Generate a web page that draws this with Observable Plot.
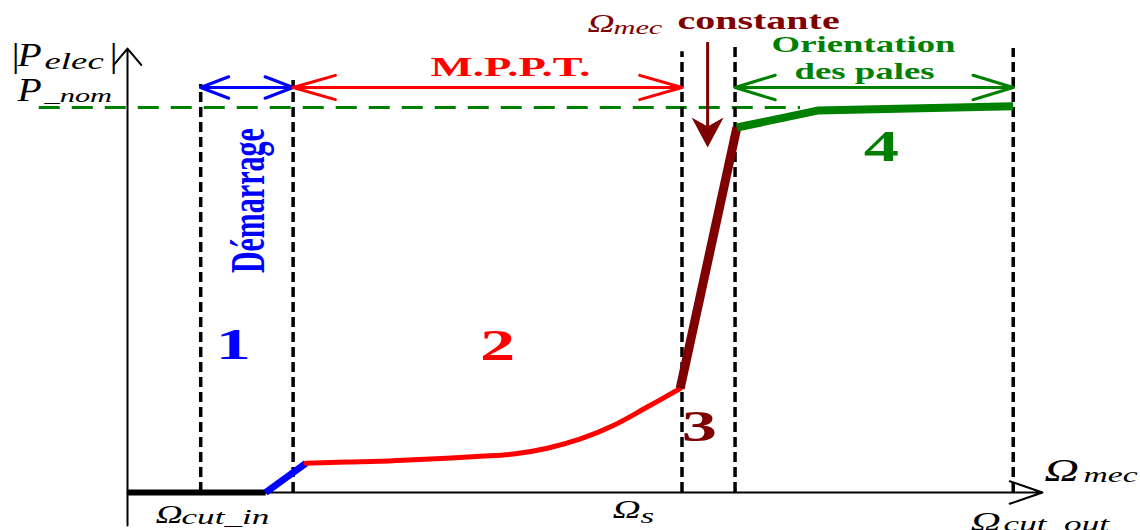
<!DOCTYPE html>
<html>
<head>
<meta charset="utf-8">
<script src="https://cdn.jsdelivr.net/npm/d3@7"></script>
<script src="https://cdn.jsdelivr.net/npm/@observablehq/plot@0.6"></script>
<style>
  html, body { margin: 0; padding: 0; background: #fff; }
  #chart svg { display: block; }
</style>
</head>
<body>
<div id="chart"></div>
<script>
// Wind turbine power curve P_elec(Ω_mec) split into its four operating zones.
// Ω_mec runs on a 0–100 axis; power is a fraction of P_nom.

// Zone boundaries on the speed axis: Ω_cut_in, start of MPPT, Ω_s, rated speed, Ω_cut_out
const boundaryOmega = [8.0, 18.1, 60.6, 66.4, 96.8];

// Turbine stopped
const stopOmega = [0, 15.1];
const stopPower = [0, 0];
// Zone 1: start-up
const startOmega = [15.1, 19.5];
const startPower = [0, 0.076];
// Zone 2: maximum power point tracking
const mpptOmega = [19.5, 24.0, 27.6, 31.3, 34.9, 38.6, 42.2, 45.9, 49.5, 53.1, 56.8, 60.4];
const mpptPower = [0.076, 0.079, 0.081, 0.085, 0.089, 0.094, 0.100, 0.115, 0.139, 0.174, 0.222, 0.270];
// Zone 3: constant speed
const constOmega = [60.4, 66.6];
const constPower = [0.270, 0.948];
// Zone 4: blade pitch control
const pitchOmega = [66.6, 75.4, 96.8];
const pitchPower = [0.948, 0.992, 1.003];

const pNom = 1;

// Zone names and numbers
const zoneNumbers = ["1", "2", "3", "4"];
const rangeNames = ["Démarrage", "M.P.P.T.", "Orientation", "des pales"];

// ---- colours
const BLUE = "#0000ff", RED = "#ff0000", MAROON = "#7f0000", GREEN = "#008000";

// ---- guide layout (data units)
const boundaryTop = [1.06, 1.07, 1.145, 1.16, 1.153];
const arrowLevel = 1.052;

const pts = (xs, ys) => xs.map((x, i) => ({x, y: ys[i]}));

// double-headed range arrow: two overlapping arrows pointing opposite ways
function rangeArrow(x1, x2, color, headLength, headAngle) {
  const d = [{x1, x2, y: arrowLevel}];
  const o = {y1: "y", y2: "y", stroke: color, strokeWidth: 3, headLength, headAngle, bend: 0, inset: 0};
  return [
    Plot.arrow(d, {...o, x1: "x1", x2: "x2"}),
    Plot.arrow(d, {...o, x1: "x2", x2: "x1"})
  ];
}

// italic P and the |…| bars of the power label
const powerSymbols = [
  {t: "|", x: -12.9, y: 1.104, size: 33},
  {t: "P", x: -12.02, y: 1.109, size: 33},
  {t: "|", x: -2.19, y: 1.104, size: 33},
  {t: "P", x: -12.02, y: 1.018, size: 33}
];
// Ω symbols
const omegaSymbols = [
  {t: "Ω", x: 3.06, y: -0.078, size: 25, color: "black"},
  {t: "Ω", x: 53.0, y: -0.0675, size: 26, color: "black"},
  {t: "Ω", x: 92.13, y: -0.099, size: 28, color: "black"},
  {t: "Ω", x: 100.2, y: 0.031, size: 32, color: "black"},
  {t: "Ω", x: 50.27, y: 1.197, size: 25, color: MAROON}
];
const subscripts = [
  {t: "elec", x: -9.07, y: 1.099, size: 23, color: "black"},
  {t: "_nom", x: -9.07, y: 1.013, size: 19, color: "black"},
  {t: "cut_in", x: 5.90, y: -0.081, size: 22, color: "black"},
  {t: "s", x: 56.07, y: -0.078, size: 22, color: "black"},
  {t: "cut_out", x: 95.74, y: -0.101, size: 22, color: "black"},
  {t: "mec", x: 104.48, y: 0.026, size: 21, color: "black"},
  {t: "mec", x: 53.11, y: 1.190, size: 19, color: MAROON}
];
const boldLabels = [
  {t: rangeNames[1], x: 41.86, y: 1.081, size: 28, color: RED},
  {t: rangeNames[2], x: 80.44, y: 1.143, size: 23, color: GREEN},
  {t: rangeNames[3], x: 80.55, y: 1.075, size: 23, color: GREEN},
  {t: zoneNumbers[0], x: 11.58, y: 0.348, size: 44, color: BLUE},
  {t: zoneNumbers[1], x: 40.44, y: 0.343, size: 44, color: RED},
  {t: zoneNumbers[2], x: 62.51, y: 0.135, size: 44, color: MAROON},
  {t: zoneNumbers[3], x: 82.40, y: 0.862, size: 44, color: GREEN}
];

const serif = "'Liberation Serif', 'Times New Roman', serif";

const chart = Plot.plot({
  width: 1140,
  height: 530,
  margin: 0,
  x: {domain: [0, 100], range: [127, 1042], axis: null},
  y: {domain: [0, 1], range: [492, 107], axis: null},
  color: {type: "identity"},
  style: {background: "#fff", fontFamily: serif, overflow: "visible"},
  marks: [
    // P_nom reference level
    Plot.link([{x1: -9.7, x2: 73.5, y: pNom}], {
      x1: "x1", x2: "x2", y1: "y", y2: "y",
      stroke: GREEN, strokeWidth: 3, strokeDasharray: "21,12"
    }),
    // zone boundaries
    Plot.ruleX(boundaryOmega.map((x, i) => ({x, top: boundaryTop[i]})), {
      x: "x", y1: 0, y2: "top",
      stroke: "black", strokeWidth: 3.5, strokeDasharray: "10,5"
    }),
    // axes
    Plot.arrow([{x: 0, y1: -0.086, y2: 1.153}], {
      x1: "x", x2: "x", y1: "y1", y2: "y2",
      stroke: "black", strokeWidth: 2, headLength: 16, headAngle: 80, bend: 0, inset: 0
    }),
    Plot.arrow([{x1: 0, x2: 100, y: 0}], {
      x1: "x1", x2: "x2", y1: "y", y2: "y",
      stroke: "black", strokeWidth: 2, headLength: 26, headAngle: 38, bend: 0, inset: 0
    }),
    // power curve
    Plot.line(pts(stopOmega, stopPower), {x: "x", y: "y", stroke: "black", strokeWidth: 6, strokeLinecap: "butt"}),
    Plot.line(pts(startOmega, startPower), {x: "x", y: "y", stroke: BLUE, strokeWidth: 7, strokeLinecap: "butt"}),
    Plot.line(pts(mpptOmega, mpptPower), {x: "x", y: "y", stroke: RED, strokeWidth: 5, curve: "catmull-rom"}),
    Plot.line(pts(constOmega, constPower), {x: "x", y: "y", stroke: MAROON, strokeWidth: 9, strokeLinecap: "butt"}),
    Plot.line(pts(pitchOmega, pitchPower), {x: "x", y: "y", stroke: GREEN, strokeWidth: 8, strokeLinecap: "butt"}),
    // operating ranges
    ...rangeArrow(boundaryOmega[0], boundaryOmega[1], BLUE, 15, 42),
    ...rangeArrow(boundaryOmega[1], boundaryOmega[2], RED, 22, 32),
    ...rangeArrow(boundaryOmega[3], boundaryOmega[4], GREEN, 21, 34),
    // "Ω_mec constante" pointer
    Plot.link([{x: 63.4, y1: 1.17, y2: 0.93}], {
      x1: "x", x2: "x", y1: "y1", y2: "y2", stroke: MAROON, strokeWidth: 3
    }),
    Plot.vector([{x: 63.4, y: 0.896}], {
      x: "x", y: "y", rotate: 180, anchor: "end", length: 30,
      fill: MAROON, stroke: "none",
      shape: {draw(c, l) { c.moveTo(0, -l); c.lineTo(-16, 0); c.lineTo(0, -9); c.lineTo(16, 0); c.closePath(); }}
    }),
    // labels
    Plot.text(powerSymbols, {
      x: "x", y: "y", text: "t", fill: "black", fontSize: d => d.size,
      fontStyle: "italic", textAnchor: "start", lineAnchor: "bottom", className: "s12"
    }),
    Plot.text(omegaSymbols, {
      x: "x", y: "y", text: "t", fill: "color", fontSize: d => d.size,
      fontStyle: "italic", textAnchor: "start", lineAnchor: "bottom", className: "s15"
    }),
    Plot.text(subscripts, {
      x: "x", y: "y", text: "t", fill: "color", fontSize: d => d.size,
      fontStyle: "italic", textAnchor: "start", lineAnchor: "bottom", className: "s16"
    }),
    Plot.text(boldLabels, {
      x: "x", y: "y", text: "t", fill: "color", fontSize: d => d.size,
      fontWeight: "bold", textAnchor: "middle", lineAnchor: "bottom", className: "s16"
    }),
    Plot.text([{t: "constante", x: 60.11, y: 1.203}], {
      x: "x", y: "y", text: "t", fill: MAROON, fontSize: 25,
      fontWeight: "bold", textAnchor: "start", lineAnchor: "bottom", className: "s16"
    }),
    Plot.text([{t: rangeNames[0], x: 13.22, y: 0.758}], {
      x: "x", y: "y", text: "t", fill: BLUE, fontSize: 30, rotate: -90,
      fontWeight: "bold", textAnchor: "middle", lineAnchor: "middle", className: "v16"
    })
  ]
});

// widen the serif lettering horizontally
const stretch = {s12: " scale(1.2,1)", s15: " scale(1.5,1)", s16: " scale(1.6,1)", v16: " scale(1,1.6)"};
for (const [cls, s] of Object.entries(stretch)) {
  chart.querySelectorAll(`g.${cls} text`).forEach(t => {
    t.setAttribute("transform", (t.getAttribute("transform") || "") + s);
  });
}

document.getElementById("chart").appendChild(chart);
</script>
</body>
</html>
